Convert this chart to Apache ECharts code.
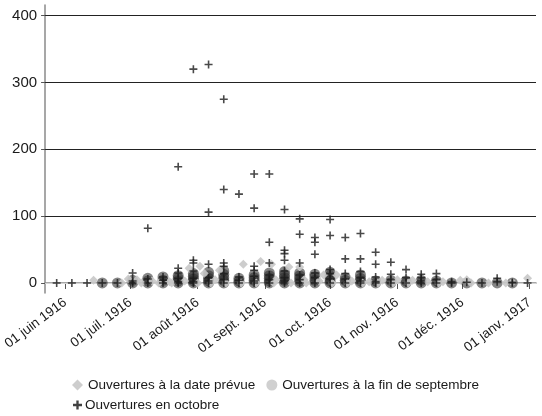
<!DOCTYPE html>
<html><head><meta charset="utf-8">
<script src="https://cdn.jsdelivr.net/npm/echarts@6/dist/echarts.min.js"></script>
<style>html,body{margin:0;padding:0;background:#fff}#c{width:542px;height:416px}</style>
</head><body><div id="c"></div>
<script>
// ---- DATA ----
const tickDates = ['1916-06-01','1916-07-01','1916-08-01','1916-09-01','1916-10-01','1916-11-01','1916-12-01','1917-01-01'];
const tickLabels = ['01 juin 1916','01 juil. 1916','01 août 1916','01 sept. 1916','01 oct. 1916','01 nov. 1916','01 déc. 1916','01 janv. 1917'];
const yTicks = [0, 100, 200, 300, 400];
const seriesNames = ['Ouvertures à la date prévue', 'Ouvertures à la fin de septembre', 'Ouvertures en octobre'];

const weekDates = ['1916-05-28','1916-06-04','1916-06-11','1916-06-18','1916-06-25','1916-07-02','1916-07-09','1916-07-16',
  '1916-07-23','1916-07-30','1916-08-06','1916-08-13','1916-08-20','1916-08-27','1916-09-03','1916-09-10',
  '1916-09-17','1916-09-24','1916-10-01','1916-10-08','1916-10-15','1916-10-22','1916-10-29','1916-11-05',
  '1916-11-12','1916-11-19','1916-11-26','1916-12-03','1916-12-10','1916-12-17','1916-12-24','1916-12-31'];

// Ouvertures en octobre (crosses), values per week
const octobreValues = [
  [0],[0],[0],[0],[0],[0,3,15],[82,6,0],[9,4,0],
  [174,22,15,7,2,0],[320,34,30,18,7,2,0],[327,106,28,8,3,0],[275,140,30,25,14,5,0],
  [133,9,4,0],[163,112,25,19,10,3,0],[163,61,30,12,5,0],[110,49,44,34,18,8,3,0],
  [96,73,30,12,5,0],[68,61,43,15,8,0],[95,71,20,14,6,0],[68,36,14,6,0],
  [74,36,17,8,3,0],[46,28,9,2,0],[31,13,5,0],[20,8,0],
  [13,8,3,0],[14,5,0],[2,0],[1],[0],[7,2],[1,0],[0]
];
// Ouvertures à la fin de septembre (circles), values per week
const septembreValues = [
  [],[],[],[0],[0],[0,4],[0,3,7],[0,4,9],
  [0,3,7,11],[0,3,6,10,14],[0,3,7,11,16],[0,4,8,13,18],
  [0,3,7],[0,4,8,12],[0,3,7,11,15],[0,4,8,12,17],
  [0,3,7,11,15],[0,4,9,13],[0,3,7,11,16],[0,4,8],
  [0,3,7,12],[0,3],[0,4],[0,3],
  [0,4],[0,3],[0],[0],[0],[0],[0],[]
];
// Ouvertures à la date prévue (diamonds)
const prevueDates = ['1916-06-14','1916-06-27','1916-06-30','1916-07-04','1916-07-06','1916-07-11','1916-07-14','1916-07-19',
  '1916-07-20','1916-07-26','1916-07-28','1916-08-01','1916-08-02','1916-08-04','1916-08-07','1916-08-09','1916-08-11',
  '1916-08-14','1916-08-21','1916-08-22','1916-08-28','1916-08-30','1916-09-04','1916-09-05','1916-09-06','1916-09-12',
  '1916-09-13','1916-09-17','1916-09-19','1916-09-20','1916-09-26','1916-09-28','1916-10-02','1916-10-04','1916-10-09',
  '1916-10-11','1916-10-16','1916-10-19','1916-10-23','1916-10-25','1916-10-30','1916-11-01','1916-11-06','1916-11-08',
  '1916-11-15','1916-11-20','1916-11-22','1916-11-30','1916-12-03','1916-12-05','1916-12-13','1916-12-21','1916-12-24','1916-12-31'];
const prevueValues = [4,0,6,5,0,3,0,2,
  0,3,22,0,25,14,0,5,19,
  0,0,28,0,32,28,0,5,24,
  0,24,5,0,3,12,0,12,0,
  3,0,2,0,4,0,5,0,4,
  2,0,2,4,5,0,0,0,1,7];

// ---- BUILD ----
function ts(s){const p=s.split('-');return Date.UTC(+p[0],+p[1]-1,+p[2]);}
const DAY = 86400000;
const tickValues = tickDates.map(ts);
const octData = [], sepData = [], prevData = [];
weekDates.forEach((d,i)=>{ octobreValues[i].forEach(v=>octData.push([ts(d),v])); septembreValues[i].forEach(v=>sepData.push([ts(d),v])); });
prevueDates.forEach((d,i)=>prevData.push([ts(d), prevueValues[i]]));

const FONT = "'Liberation Sans', Arial, Helvetica, sans-serif";
const PLUS = 'path://M4,0H6V4H10V6H6V10H4V6H0V4H4Z';
const PLUS_LEG = 'path://M3.7,0H6.3V3.7H10V6.3H6.3V10H3.7V6.3H0V3.7H3.7Z';
const chart = echarts.init(document.getElementById('c'), null, {renderer:'canvas'});
chart.setOption({
  animation:false,
  backgroundColor:'#fff',
  textStyle:{fontFamily:FONT},
  grid:{left:45, top:5, width:491, height:288, containLabel:false},
  legend:[{
    left:67, top:373, itemWidth:11, itemHeight:11, itemGap:11,
    textStyle:{fontSize:13.5, color:'#1a1a1a', fontFamily:FONT},
    data:[{name:seriesNames[0], icon:'diamond', itemStyle:{color:'#c8c8c8'}},
          {name:seriesNames[1], icon:'circle', itemStyle:{color:'#c4c4c4'}}]
  },{
    left:68, top:393, itemWidth:9, itemHeight:9, itemGap:4,
    textStyle:{fontSize:13.5, color:'#1a1a1a', fontFamily:FONT, padding:[0,0,0,-2]},
    data:[{name:seriesNames[2], icon:PLUS_LEG, itemStyle:{color:'#111'}}]
  }],
  xAxis:{
    type:'value',
    min: ts('1916-06-01') - 9.35*DAY,
    max: ts('1916-06-01') + 216.9*DAY,
    splitLine:{show:false},
    axisLine:{lineStyle:{color:'#8a8a8a', width:1.5}},
    axisTick:{show:true, length:6, customValues:tickValues, lineStyle:{color:'#555', width:1}},
    axisLabel:{customValues:tickValues, rotate:37, margin:8, fontSize:13.5, color:'#1a1a1a', fontFamily:FONT,
      formatter:(v)=>{const i=tickValues.indexOf(v); return i>=0?tickLabels[i]:'';}}
  },
  yAxis:{
    type:'value', min:-15, max:416,
    splitLine:{show:false},
    axisLine:{show:true, lineStyle:{color:'#8a8a8a', width:1.5}},
    axisTick:{show:true, length:4, customValues:yTicks, lineStyle:{color:'#555'}},
    axisLabel:{customValues:yTicks, margin:8, fontSize:15, color:'#1a1a1a', fontFamily:FONT}
  },
  series:[
    {name:seriesNames[0], type:'scatter', data:prevData, symbol:'diamond', symbolSize:9,
     itemStyle:{color:'#c8c8c8', opacity:0.9}, z:4,
     markLine:{silent:true, symbol:'none', label:{show:false}, animation:false, z:1,
       data:[{yAxis:0, lineStyle:{color:'#d6d6d6', width:1, type:'solid'}},
             {yAxis:100, lineStyle:{color:'#222', width:1, type:'solid'}},
             {yAxis:200, lineStyle:{color:'#222', width:1, type:'solid'}},
             {yAxis:300, lineStyle:{color:'#222', width:1, type:'solid'}},
             {yAxis:400, lineStyle:{color:'#222', width:1, type:'solid'}}]}},
    {name:seriesNames[1], type:'scatter', data:sepData, symbol:'circle', symbolSize:11,
     itemStyle:{color:'rgba(45,45,45,0.72)'}, z:3},
    {name:seriesNames[2], type:'scatter', data:octData, symbol:PLUS, symbolSize:8,
     itemStyle:{color:'#1c1c1c'}, z:5}
  ]
});
</script></body></html>
